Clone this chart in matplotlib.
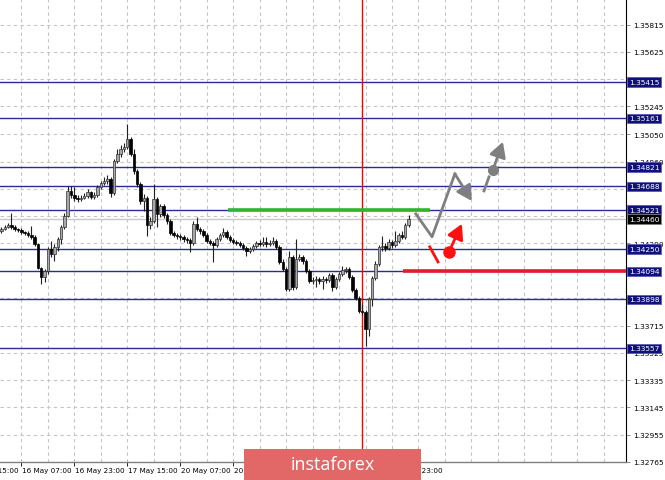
import numpy as np
import matplotlib
matplotlib.use('Agg')
import matplotlib.pyplot as plt
from matplotlib.patches import Rectangle
from matplotlib.transforms import blended_transform_factory

# GBPUSD H1 candles
opens = [1.34376, 1.34390, 1.34404, 1.34418, 1.34404, 1.34390, 1.34383, 1.34369, 1.34362, 1.34348,
         1.34335, 1.34286, 1.34118, 1.34056, 1.34098, 1.34251, 1.34216, 1.34265, 1.34321, 1.34404,
         1.34481, 1.34655, 1.34627, 1.34606, 1.34599, 1.34606, 1.34620, 1.34648, 1.34613, 1.34627,
         1.34683, 1.34711, 1.34725, 1.34739, 1.34641, 1.34864, 1.34913, 1.34948, 1.34962, 1.35018,
         1.34913, 1.34795, 1.34704, 1.34585, 1.34606, 1.34418, 1.34446, 1.34599, 1.34495, 1.34551,
         1.34488, 1.34446, 1.34362, 1.34348, 1.34342, 1.34335, 1.34321, 1.34314, 1.34293, 1.34425,
         1.34390, 1.34376, 1.34348, 1.34307, 1.34293, 1.34279, 1.34321, 1.34348, 1.34369, 1.34335,
         1.34314, 1.34300, 1.34293, 1.34279, 1.34258, 1.34237, 1.34251, 1.34272, 1.34293, 1.34286,
         1.34300, 1.34286, 1.34293, 1.34307, 1.34265, 1.34160, 1.34111, 1.33972, 1.34195, 1.33986,
         1.34181, 1.34195, 1.34167, 1.34098, 1.34028, 1.34035, 1.34042, 1.34028, 1.34042, 1.34035,
         1.34070, 1.33986, 1.34042, 1.34077, 1.34104, 1.34111, 1.34056, 1.33965, 1.33909, 1.33819,
         1.33812, 1.33693, 1.33902, 1.34049, 1.34146, 1.34265, 1.34272, 1.34258, 1.34300, 1.34279,
         1.34307, 1.34348, 1.34335, 1.34418]
highs = [1.34404, 1.34418, 1.34432, 1.34502, 1.34418, 1.34397, 1.34397, 1.34376, 1.34376, 1.34411,
         1.34348, 1.34293, 1.34125, 1.34111, 1.34265, 1.34307, 1.34286, 1.34335, 1.34418, 1.34502,
         1.34690, 1.34690, 1.34683, 1.34627, 1.34627, 1.34641, 1.34669, 1.34655, 1.34648, 1.34697,
         1.34725, 1.34753, 1.34767, 1.34753, 1.34878, 1.34948, 1.34976, 1.34990, 1.35122, 1.35032,
         1.34948, 1.34809, 1.34718, 1.34634, 1.34620, 1.34474, 1.34704, 1.34613, 1.34565, 1.34565,
         1.34502, 1.34460, 1.34376, 1.34362, 1.34355, 1.34348, 1.34335, 1.34328, 1.34446, 1.34474,
         1.34404, 1.34390, 1.34362, 1.34321, 1.34307, 1.34335, 1.34362, 1.34397, 1.34383, 1.34348,
         1.34328, 1.34314, 1.34307, 1.34293, 1.34272, 1.34265, 1.34286, 1.34307, 1.34314, 1.34335,
         1.34335, 1.34314, 1.34335, 1.34321, 1.34279, 1.34181, 1.34125, 1.34237, 1.34209, 1.34321,
         1.34216, 1.34209, 1.34181, 1.34111, 1.34056, 1.34063, 1.34056, 1.34063, 1.34056, 1.34084,
         1.34084, 1.34056, 1.34091, 1.34132, 1.34125, 1.34125, 1.34070, 1.33979, 1.33923, 1.33868,
         1.33826, 1.33916, 1.34063, 1.34167, 1.34279, 1.34342, 1.34293, 1.34321, 1.34314, 1.34376,
         1.34362, 1.34376, 1.34432, 1.34488]
lows = [1.34362, 1.34383, 1.34397, 1.34390, 1.34376, 1.34369, 1.34355, 1.34348, 1.34335, 1.34321,
        1.34272, 1.34111, 1.34007, 1.34021, 1.34077, 1.34195, 1.34167, 1.34237, 1.34286, 1.34390,
        1.34474, 1.34606, 1.34585, 1.34578, 1.34585, 1.34599, 1.34606, 1.34599, 1.34599, 1.34613,
        1.34669, 1.34697, 1.34704, 1.34613, 1.34627, 1.34850, 1.34892, 1.34927, 1.34948, 1.34899,
        1.34774, 1.34683, 1.34565, 1.34516, 1.34342, 1.34390, 1.34432, 1.34404, 1.34474, 1.34467,
        1.34425, 1.34348, 1.34335, 1.34321, 1.34314, 1.34300, 1.34293, 1.34230, 1.34279, 1.34376,
        1.34355, 1.34335, 1.34293, 1.34279, 1.34160, 1.34265, 1.34307, 1.34335, 1.34321, 1.34300,
        1.34286, 1.34279, 1.34265, 1.34244, 1.34202, 1.34223, 1.34237, 1.34258, 1.34272, 1.34272,
        1.34265, 1.34272, 1.34279, 1.34251, 1.34146, 1.34098, 1.33958, 1.33958, 1.33965, 1.33972,
        1.34167, 1.34146, 1.34084, 1.34014, 1.34007, 1.33986, 1.34007, 1.33972, 1.34014, 1.34021,
        1.33958, 1.33972, 1.34028, 1.34063, 1.34084, 1.34042, 1.33951, 1.33895, 1.33805, 1.33791,
        1.33575, 1.33645, 1.33854, 1.34035, 1.34132, 1.34237, 1.34237, 1.34244, 1.34258, 1.34265,
        1.34293, 1.34321, 1.34321, 1.34404]
closes = [1.34390, 1.34404, 1.34418, 1.34404, 1.34390, 1.34383, 1.34369, 1.34362, 1.34348, 1.34335,
          1.34286, 1.34118, 1.34056, 1.34098, 1.34251, 1.34216, 1.34265, 1.34321, 1.34404, 1.34481,
          1.34655, 1.34627, 1.34606, 1.34599, 1.34606, 1.34620, 1.34648, 1.34613, 1.34627, 1.34683,
          1.34711, 1.34725, 1.34739, 1.34641, 1.34864, 1.34913, 1.34948, 1.34962, 1.35018, 1.34913,
          1.34795, 1.34704, 1.34585, 1.34606, 1.34418, 1.34446, 1.34599, 1.34495, 1.34551, 1.34488,
          1.34446, 1.34362, 1.34348, 1.34342, 1.34335, 1.34321, 1.34314, 1.34293, 1.34425, 1.34390,
          1.34376, 1.34348, 1.34307, 1.34293, 1.34279, 1.34321, 1.34348, 1.34369, 1.34335, 1.34314,
          1.34300, 1.34293, 1.34279, 1.34258, 1.34237, 1.34251, 1.34272, 1.34293, 1.34286, 1.34300,
          1.34286, 1.34293, 1.34307, 1.34265, 1.34160, 1.34111, 1.33972, 1.34195, 1.33986, 1.34181,
          1.34195, 1.34167, 1.34098, 1.34028, 1.34035, 1.34042, 1.34028, 1.34042, 1.34035, 1.34070,
          1.33986, 1.34042, 1.34077, 1.34104, 1.34111, 1.34056, 1.33965, 1.33909, 1.33819, 1.33812,
          1.33693, 1.33902, 1.34049, 1.34146, 1.34265, 1.34272, 1.34258, 1.34300, 1.34279, 1.34307,
          1.34348, 1.34335, 1.34418, 1.34460]

price_ticks = [1.35815, 1.35625, 1.35435, 1.35245, 1.35050, 1.34860, 1.34670, 1.34480, 1.34290,
               1.34100, 1.33905, 1.33715, 1.33525, 1.33335, 1.33145, 1.32955, 1.32765]
# tick labels that sit fully under a level box are not printed
hidden_ticks = [1.35435, 1.34670, 1.34480, 1.34100, 1.33905]
levels = [1.35415, 1.35161, 1.34821, 1.34688, 1.34521, 1.34250, 1.34094, 1.33898, 1.33557]
last_price = 1.34460

time_labels = ['15 May 15:00', '16 May 07:00', '16 May 23:00', '17 May 15:00', '20 May 07:00',
               '20 May 23:00', '22 May 23:00']
label_bars = [-10, 6, 22, 38, 54, 70, 118]
tick_bars = [6, 22, 38, 54, 70, 86, 102, 118]
grid_bars = list(range(-2, 189, 8))
vline_bar = 109

# drawn scenario (bar index, price)
green_x = [68.4, 129.5]
green_y = [1.34521, 1.34521]
red_x = [121.3, 188.7]
red_y = [1.34094, 1.34094]
gray_path_x = [125.2, 130.1, 137.0, 142.1]
gray_path_y = [1.34495, 1.34335, 1.34774, 1.34585]
gray_dash_x = [145.8, 147.3]
gray_dash_y = [1.34655, 1.34753]
gray_dot = (148.5, 1.34802)
gray_tip = (151.5, 1.34997)
red_seg_x = [129.4, 131.9]
red_seg_y = [1.34265, 1.34160]
red_dot = (135.2, 1.34230)
red_tip = (139.1, 1.34425)

W, H = 665, 481
fig = plt.figure(figsize=(W / 100, H / 100), dpi=100)
fig.patch.set_facecolor('white')
ax = fig.add_axes([0, 18 / H, 626 / W, 463 / H])
ax.set_xlim(-0.45, 188.7)
ax.set_ylim(1.32765, 1.35993)

o = np.array(opens); h = np.array(highs); l = np.array(lows); c = np.array(closes)
x = np.arange(len(c))
bull = c >= o

# grid
for gb in grid_bars:
    ax.axvline(gb, color='#c4c4c4', lw=0.8, ls=(0, (3, 3)), zorder=0)
for p in price_ticks:
    ax.axhline(p, color='#c4c4c4', lw=0.8, ls=(0, (3, 3)), zorder=0)

# levels
for lv in levels:
    ax.axhline(lv, color='#2a2a9a', lw=1.0, zorder=1)
ax.axhline(last_price, color='#c8c8c8', lw=1.0, zorder=1)
ax.axvline(vline_bar, color='#ff0000', lw=1.0, zorder=2)

# candles
ax.vlines(x, l, h, color='#202020', lw=0.8, zorder=3)
ax.bar(x[bull], (c - o)[bull], bottom=o[bull], width=0.75, color='#a8a8a8',
       edgecolor='#303030', lw=0.5, zorder=4)
ax.bar(x[~bull], (c - o)[~bull], bottom=o[~bull], width=0.75, color='black',
       edgecolor='black', lw=0.5, zorder=4)

ax.plot(green_x, green_y, color='#2fb52f', lw=2.6, solid_capstyle='butt', zorder=5)
ax.plot(red_x, red_y, color='#e8192c', lw=2.6, solid_capstyle='butt', zorder=5)

# scenario arrows
gray = '#7f7f7f'
head = '-|>,head_length=0.9,head_width=0.5'
ax.plot(gray_path_x[:3], gray_path_y[:3], color=gray, lw=2, zorder=6)
ax.annotate('', xy=(gray_path_x[3], gray_path_y[3]), xytext=(gray_path_x[2], gray_path_y[2]),
            arrowprops=dict(arrowstyle=head, color=gray, lw=2, shrinkA=0, shrinkB=0), zorder=6)
ax.plot(gray_dash_x, gray_dash_y, color=gray, lw=2, zorder=6)
ax.plot(*gray_dot, 'o', color=gray, ms=7, zorder=6)
ax.annotate('', xy=gray_tip, xytext=gray_dot,
            arrowprops=dict(arrowstyle=head, color=gray, lw=2, shrinkA=0, shrinkB=0), zorder=6)
ax.plot(red_seg_x, red_seg_y, color='#ff1010', lw=2, zorder=6)
ax.plot(*red_dot, 'o', color='#ff1010', ms=8, zorder=6)
ax.annotate('', xy=red_tip, xytext=red_dot,
            arrowprops=dict(arrowstyle=head, color='#ff1010', lw=2, shrinkA=0, shrinkB=0), zorder=6)

# axes frame
for s in ['top', 'left']:
    ax.spines[s].set_visible(False)
ax.spines['right'].set_color('black')
ax.spines['right'].set_linewidth(0.8)
ax.spines['bottom'].set_color('#808080')
ax.spines['bottom'].set_linewidth(1.0)

ax.yaxis.tick_right()
ax.set_yticks(price_ticks)
ax.set_yticklabels(['' if p in hidden_ticks else f'{p:.5f}' for p in price_ticks])
ax.tick_params(axis='y', length=3, width=0.6, color='#808080', labelsize=5.4, pad=2,
               labelcolor='black')
ax.set_xticks(tick_bars)
ax.set_xticklabels([])
ax.tick_params(axis='x', length=3, width=0.6, color='black')

trans_x = blended_transform_factory(ax.transData, ax.transAxes)
for b, t in zip(label_bars, time_labels):
    ax.text(b + 0.2, -8 / 463, t, transform=trans_x, ha='left', va='center',
            fontsize=5.2, clip_on=False)

trans_y = blended_transform_factory(ax.transAxes, ax.transData)
for lv in levels:
    ax.text(1.0045, lv, f'{lv:.5f}', transform=trans_y, ha='left', va='center', fontsize=5.4,
            color='white', clip_on=False, zorder=10,
            bbox=dict(boxstyle='square,pad=0.22', fc='#10107a', ec='#5a5ab4', lw=0.6))
ax.text(1.0045, last_price, f'{last_price:.5f}', transform=trans_y, ha='left', va='center',
        fontsize=5.4, color='white', clip_on=False, zorder=10,
        bbox=dict(boxstyle='square,pad=0.22', fc='black', ec='#808080', lw=0.6))

# logo
fig.patches.append(Rectangle((244 / W, 0), 177 / W, 31 / H, transform=fig.transFigure,
                             facecolor='#e26868', edgecolor='none', zorder=20))
fig.text(333 / W, 15.5 / H, 'instaforex', color='white', fontsize=13, family='Open Sans',
         ha='center', va='center', zorder=21)

fig.savefig('out.png', dpi=100)
